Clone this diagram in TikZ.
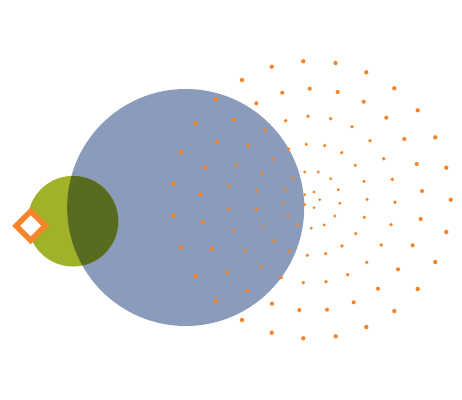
\documentclass[tikz,border=0pt]{standalone}
\definecolor{discblue}{RGB}{138,155,187}
\definecolor{leafgreen}{RGB}{162,177,42}
\definecolor{leafdark}{RGB}{87,108,33}
\definecolor{seedorange}{RGB}{245,133,40}
\tikzset{
  seed/.style={fill=seedorange},
  kite/.style={draw=seedorange, fill=white, line width=4.1pt, miter limit=4}
}
\begin{document}
\begin{tikzpicture}[x=0.75pt,y=0.75pt,yscale=-1]
    \useasboundingbox (0,0) rectangle (462,400);

    %Shape: Circle [big disc]
    \fill [discblue] (185.7,207.5) circle [radius=118.5];
    %Shape: Circle [small disc]
    \fill [leafgreen] (73,221.2) circle [radius=45.3];
    %Shape: Overlap of both discs
    \begin{scope}
      \clip (185.7,207.5) circle [radius=118.5];
      \fill [leafdark] (73,221.2) circle [radius=45.3];
    \end{scope}

    %Shape: Diamond
    \draw [kite] (16.1,225.8) -- (30.7,211.2) -- (45.3,225.8) -- (30.7,240.4) -- cycle;

    %Seeds
    \foreach \x/\y in {242/80, 271.7/66.7, 303.3/61.3, 335.5/63, 366.3/72.3,
        282.3/92.7, 309.7/88.7, 337.7/92, 394.3/88.3,
        216/99, 256.3/103.3, 363.7/101.7, 417.7/110.3,
        195.3/123.3, 234/120, 285.7/120.7, 308/116.3, 330.7/118.7, 386.3/117.7, 352/126.7, 265.3/130.3,
        435.3/137.3, 404.3/139, 370/140.7, 217/142, 248.3/145.3, 306.3/144.3, 324.7/145.7, 288.7/149, 341.7/152.7, 181/152.3,
        273.3/159.3, 383.7/158.7, 355.3/165.3, 416.7/164, 446.3/167.7, 205.3/167.3, 236/164.7, 304.7/172, 318.3/172,
        262.3/173.7, 330.7/178.7, 292.7/178.3, 392.3/179.3, 364/181.3,
        173.3/183.7, 229.3/186.3, 284.7/189.3, 256.7/191, 314/192, 338.3/189.7, 422/191, 200.3/194.3, 304.7/194.7,
        319.7/199.7, 367/199.3, 450.7/199.7, 395/202.3, 339.7/203.3, 283/203, 304.7/204.7, 314/207.7, 228.3/208.7, 256.3/209.3,
        173.3/215.7, 288/216, 334.7/216, 364.3/217.3, 420.7/219, 202.7/222.3, 262.7/226.7, 298/225, 324.3/225,
        311.3/228.3, 391/224.7, 234/230.7, 446.3/232, 355.7/233.7,
        274/241, 342/246, 381.3/245, 412.7/245.3, 181/247.3, 211.7/248.7, 245.3/250.7, 289.3/251, 307.3/255.3,
        325.7/253.7, 366.7/262.3, 435.3/262, 261.3/266.7, 398/269.3, 347.7/274.7, 195.3/276, 227/272, 281.3/277.7,
        303.3/282.7, 326/281.7, 378/288.7, 417.7/289, 247.3/290.7,
        216/301, 272/303.7, 353.7/302.3, 299.3/310, 327/309.7, 394.3/311, 242/320, 366.3/327, 271.7/332.7,
        303.3/338.3, 335.7/336.3}{
      \pgfmathsetmacro\seedr{1.5+0.005*veclen(\x-311.5,\y-200)}
      \fill [seed] (\x,\y) circle [radius=\seedr];
    }

\end{tikzpicture}
\end{document}
